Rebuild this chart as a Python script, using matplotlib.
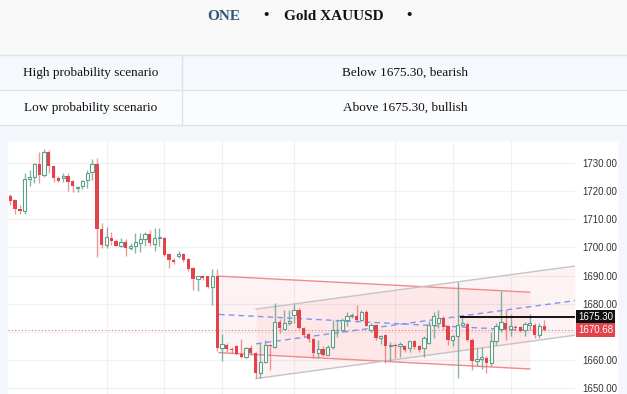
import matplotlib
matplotlib.use("Agg")
import matplotlib.pyplot as plt
from matplotlib.patches import Rectangle
import numpy as np

# candle data (XAUUSD)
opens = [1718.2, 1716.7, 1713.6, 1713.1, 1724.4, 1725.1, 1729.6, 1725.6, 1734.1, 1728.8,
         1724.7, 1724.6, 1725.5, 1723.6, 1721.3, 1721.8, 1724.1, 1726.8, 1729.8, 1706.7,
         1701.0, 1703.3, 1702.4, 1700.7, 1701.9, 1699.8, 1700.4, 1701.5, 1703.0, 1704.7,
         1701.3, 1703.3, 1703.5, 1697.6, 1695.6, 1697.0, 1697.6, 1695.8, 1692.6, 1688.7,
         1689.7, 1689.7, 1686.1, 1690.0, 1664.2, 1665.3, 1663.8, 1665.0, 1662.1, 1661.2,
         1664.1, 1662.6, 1655.5, 1659.4, 1665.3, 1664.7, 1673.6, 1671.0, 1673.0, 1675.9,
         1677.8, 1671.3, 1669.2, 1667.3, 1662.6, 1663.9, 1661.9, 1664.5, 1670.5, 1670.7,
         1674.3, 1675.7, 1675.7, 1674.3, 1677.2, 1670.7, 1672.4, 1667.7, 1668.8, 1665.0,
         1665.4, 1665.0, 1664.8, 1664.2, 1666.6, 1664.8, 1664.2, 1666.0, 1672.5, 1673.1,
         1674.9, 1671.9, 1667.2, 1668.4, 1672.5, 1672.9, 1667.0, 1659.8, 1660.3, 1660.7,
         1658.9, 1666.6, 1671.0, 1673.1, 1671.0, 1671.7, 1671.7, 1670.5, 1672.5, 1672.5,
         1669.0, 1671.9]
highs = [1719.1, 1717.1, 1715.0, 1726.5, 1727.6, 1730.0, 1733.8, 1735.0, 1734.7, 1729.0,
         1725.3, 1726.5, 1726.5, 1724.1, 1722.0, 1724.1, 1727.6, 1731.5, 1731.8, 1708.7,
         1707.2, 1705.6, 1703.0, 1703.3, 1703.0, 1701.5, 1705.0, 1705.0, 1705.6, 1706.2,
         1706.8, 1706.8, 1703.9, 1698.2, 1696.2, 1698.6, 1698.2, 1696.2, 1693.2, 1689.9,
         1690.2, 1689.9, 1692.3, 1692.3, 1669.2, 1665.9, 1664.5, 1665.3, 1667.6, 1664.5,
         1665.3, 1663.0, 1665.9, 1667.1, 1665.7, 1680.2, 1674.4, 1677.8, 1677.8, 1680.0,
         1678.4, 1671.9, 1669.7, 1667.7, 1667.1, 1664.8, 1665.4, 1674.3, 1674.3, 1674.9,
         1676.9, 1676.6, 1679.6, 1677.8, 1677.6, 1673.1, 1672.8, 1669.0, 1669.2, 1666.4,
         1666.2, 1666.4, 1665.4, 1666.6, 1667.2, 1665.4, 1668.4, 1673.7, 1676.9, 1677.9,
         1675.5, 1672.5, 1669.0, 1687.9, 1675.5, 1673.1, 1667.8, 1664.1, 1664.5, 1661.3,
         1670.1, 1673.1, 1684.7, 1677.9, 1676.3, 1672.5, 1672.1, 1673.4, 1676.3, 1673.1,
         1673.1, 1674.3]
lows = [1715.0, 1711.8, 1711.8, 1711.8, 1721.8, 1722.9, 1722.9, 1725.0, 1726.5, 1723.2,
        1723.2, 1723.2, 1720.0, 1719.6, 1719.6, 1720.7, 1721.2, 1723.9, 1696.5, 1699.8,
        1699.8, 1701.0, 1700.4, 1700.0, 1696.8, 1699.2, 1698.2, 1698.5, 1700.4, 1700.4,
        1698.9, 1700.4, 1697.0, 1692.6, 1694.3, 1696.1, 1695.0, 1691.5, 1684.9, 1684.7,
        1688.5, 1685.5, 1679.6, 1663.3, 1659.8, 1662.9, 1662.6, 1661.8, 1660.6, 1660.6,
        1661.8, 1653.5, 1653.5, 1658.9, 1656.4, 1664.1, 1669.5, 1670.7, 1672.3, 1673.3,
        1670.9, 1668.3, 1666.5, 1660.6, 1660.6, 1661.3, 1661.6, 1663.9, 1668.3, 1670.1,
        1672.1, 1674.9, 1673.7, 1673.7, 1672.0, 1670.1, 1667.2, 1665.8, 1659.1, 1659.5,
        1660.7, 1661.0, 1663.0, 1663.0, 1663.9, 1663.0, 1661.0, 1665.8, 1667.8, 1671.3,
        1670.8, 1665.4, 1664.9, 1653.5, 1672.0, 1666.6, 1656.5, 1657.7, 1656.9, 1655.3,
        1657.7, 1665.4, 1670.0, 1667.0, 1668.6, 1670.8, 1669.9, 1668.6, 1670.8, 1667.8,
        1667.8, 1670.2]
closes = [1716.7, 1713.8, 1713.1, 1724.4, 1725.1, 1729.6, 1725.6, 1734.1, 1728.8, 1724.7,
          1723.6, 1725.3, 1723.2, 1721.8, 1721.6, 1723.8, 1726.5, 1729.8, 1706.7, 1701.0,
          1703.7, 1702.4, 1700.7, 1701.9, 1699.8, 1700.5, 1701.8, 1703.0, 1704.7, 1701.5,
          1703.3, 1703.6, 1697.4, 1695.4, 1694.9, 1697.7, 1695.6, 1692.3, 1688.7, 1689.7,
          1689.2, 1686.1, 1689.9, 1664.2, 1665.6, 1663.8, 1663.4, 1662.1, 1660.9, 1664.1,
          1662.4, 1655.5, 1659.4, 1665.3, 1664.9, 1673.6, 1671.3, 1673.0, 1673.9, 1677.8,
          1671.3, 1668.9, 1667.3, 1662.6, 1663.8, 1661.9, 1664.5, 1670.5, 1670.7, 1674.3,
          1675.7, 1676.0, 1674.3, 1676.9, 1672.2, 1672.4, 1667.7, 1668.6, 1665.0, 1665.2,
          1665.0, 1665.6, 1663.6, 1666.6, 1664.6, 1663.4, 1667.8, 1672.5, 1675.5, 1674.9,
          1671.7, 1667.2, 1668.4, 1672.5, 1673.1, 1667.0, 1659.5, 1660.3, 1661.0, 1658.9,
          1666.6, 1671.9, 1673.4, 1671.0, 1671.9, 1671.2, 1670.2, 1672.9, 1673.1, 1669.0,
          1671.9, 1670.68]

price_ticks = [1650, 1660, 1670, 1680, 1690, 1700, 1710, 1720, 1730]
day_breaks = [20, 32, 44, 59, 80, 92, 104]

# drawn channels (candle index, price)
red_x = [43.4, 108.0]
red_upper = [1689.8, 1684.1]
red_lower = [1662.6, 1656.8]
gray_x = [51.1, 117.4]
gray_upper = [1678.1, 1693.4]
gray_lower = [1653.4, 1668.8]
pivot = 1675.30
pivot_start = 93.8
last_price = 1670.68

RED = "#e2434a"
GREEN = "#5d9e88"

W, H = 627, 394
fig = plt.figure(figsize=(W / 100, H / 100), dpi=100)
fig.patch.set_facecolor("#f3f7fc")

def rect(x, y, w, h, color):
    fig.patches.append(Rectangle((x / W, 1 - (y + h) / H), w / W, h / H,
                                 transform=fig.transFigure, color=color, zorder=-5))

def hline(y, x0=0, x1=W):
    fig.add_artist(plt.Line2D([x0 / W, x1 / W], [1 - y / H, 1 - y / H],
                              transform=fig.transFigure, color="#dfe3e8", lw=1, zorder=-4))

# header + table
rect(0, 0, W, 55, "#f8f8f8")
rect(0, 55, W, 35, "#f5f9fe")
rect(0, 90, W, 35, "#fbfcfe")
hline(55)
hline(90)
hline(125)
fig.add_artist(plt.Line2D([182 / W, 182 / W], [1 - 55 / H, 1 - 125 / H],
                          transform=fig.transFigure, color="#dfe3e8", lw=1, zorder=-4))

tfont = dict(family="Liberation Serif", fontweight="bold", fontsize=11, va="center", ha="center")
fig.text(224 / W, 1 - 16 / H, "ONE", color="#34567a", **tfont)
fig.text(266 / W, 1 - 16 / H, "•", color="#111", **tfont)
fig.text(334 / W, 1 - 16 / H, "Gold XAUUSD", color="#111", **tfont)
fig.text(409 / W, 1 - 16 / H, "•", color="#111", **tfont)

cfont = dict(family="Liberation Serif", fontsize=9.5, va="center", ha="center", color="#111")
fig.text(91 / W, 1 - 73 / H, "High probability scenario", **cfont)
fig.text(405 / W, 1 - 73 / H, "Below 1675.30, bearish", **cfont)
fig.text(91 / W, 1 - 108 / H, "Low probability scenario", **cfont)
fig.text(405 / W, 1 - 108 / H, "Above 1675.30, bullish", **cfont)

# chart panel
rect(8, 142, 609, 252, "white")
ax = fig.add_axes([8 / W, 0, 567 / W, 252 / H])
ax.set_facecolor("none")
ax.set_xlim(-0.48, 117.4)
ax.set_ylim(1647.9, 1737.5)
for s in ax.spines.values():
    s.set_visible(False)
ax.set_xticks([])
ax.set_yticks(price_ticks)
# 1670.00 sits under the last-price tag
ax.set_yticklabels(["" if p == 1670 else f"{p:.2f}" for p in price_ticks])
ax.yaxis.tick_right()
ax.tick_params(axis="y", length=0, pad=5, labelsize=7, labelcolor="#333333")
for lab in ax.get_yticklabels():
    lab.set_family("Liberation Sans")
ax.grid(axis="y", color="#f0f0f0", lw=0.8)
ax.set_axisbelow(True)
for d in day_breaks:
    ax.axvline(d, color="#f0f0f0", lw=0.8, zorder=0)

# channels
ax.fill_between(red_x, red_lower, red_upper, color="#f23645", alpha=0.06, lw=0, zorder=1)
ax.fill_between(gray_x, gray_lower, gray_upper, color="#f23645", alpha=0.06, lw=0, zorder=1)
ax.plot(red_x, red_upper, color="#f08a8c", lw=1, zorder=2)
ax.plot(red_x, red_lower, color="#f08a8c", lw=1, zorder=2)
ax.plot(gray_x, gray_upper, color="#c4c4c4", lw=1, zorder=2)
ax.plot(gray_x, gray_lower, color="#c4c4c4", lw=1, zorder=2)
red_mid = [(a + b) / 2 for a, b in zip(red_upper, red_lower)]
gray_mid = [(a + b) / 2 for a, b in zip(gray_upper, gray_lower)]
ax.plot(red_x, red_mid, color="#7b97f0", lw=1, ls=(0, (4, 3)), zorder=2)
ax.plot(gray_x, gray_mid, color="#7b97f0", lw=1, ls=(0, (4, 3)), zorder=2)

# candles
o = np.array(opens)
c = np.array(closes)
x = np.arange(len(o))
up = c >= o
ax.vlines(x[up], np.array(lows)[up], np.array(highs)[up], color=GREEN, lw=1, alpha=0.75, zorder=3)
ax.vlines(x[~up], np.array(lows)[~up], np.array(highs)[~up], color=RED, lw=1, alpha=0.55, zorder=3)
body = np.maximum(np.abs(c - o), 0.3)
ax.bar(x[up], body[up], bottom=np.minimum(o, c)[up], width=0.68,
       facecolor="white", edgecolor=GREEN, lw=0.8, zorder=4)
ax.bar(x[~up], body[~up], bottom=np.minimum(o, c)[~up], width=0.68,
       color=RED, lw=0, zorder=4)

# levels
ax.axhline(last_price, color="#e57373", lw=0.8, ls=(0, (1, 2)), zorder=2)
ax.plot([pivot_start, 117.4], [pivot, pivot], color="#111111", lw=1.4, zorder=5)
tr = ax.get_yaxis_transform()
ax.text(1.006, pivot, f"{pivot:.2f}", transform=tr, ha="left", va="center",
        fontsize=7, family="Liberation Sans", color="white", clip_on=False,
        bbox=dict(boxstyle="square,pad=0.2", fc="#111111", ec="none"))
ax.text(1.006, last_price, f"{last_price:.2f}", transform=tr, ha="left", va="center",
        fontsize=7, family="Liberation Sans", color="white", clip_on=False,
        bbox=dict(boxstyle="square,pad=0.2", fc=RED, ec="none"))

fig.savefig("out.png", dpi=100)
